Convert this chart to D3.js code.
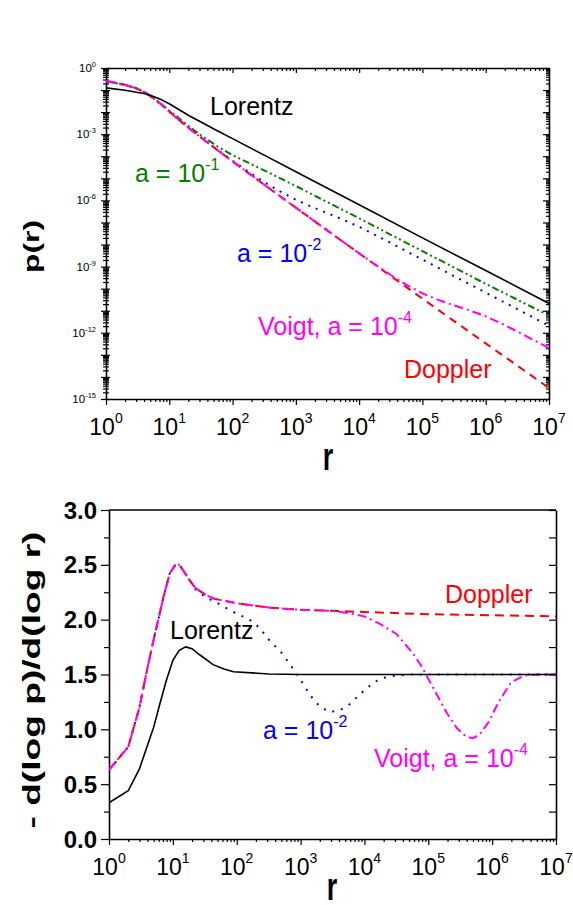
<!DOCTYPE html>
<html lang="en">
<head>
<meta charset="utf-8">
<title>Line profiles p(r)</title>
<script src="https://cdn.jsdelivr.net/npm/d3@7"></script>
<style>
  body { margin: 0; background: #fff; }
  svg text { font-family: "Liberation Sans", Arial, sans-serif; }
  .domain { stroke: #000; stroke-width: 1.6; }
  .tick line { stroke: #000; stroke-width: 1.2; }
</style>
</head>
<body>
<svg width="573" height="905"></svg>
<script>
// top panel, pairs of [log10 r, log10 p(r)]
const lorentzP = [[0,-0.9],[0.3,-1.01],[0.48,-1.1],[0.62,-1.17],[0.7,-1.24],[0.85,-1.4],[1,-1.62],[1.15,-1.88],[1.3,-2.14],[1.5,-2.45],[1.75,-2.83],[2,-3.2],[2.5,-3.95],[3,-4.7],[4,-6.2],[5,-7.7],[6,-9.18],[7,-10.67]];
const dopplerP = [[0,-0.59],[0.3,-0.76],[0.48,-0.92],[0.62,-1.12],[0.7,-1.27],[0.85,-1.6],[1,-1.97],[1.15,-2.35],[1.3,-2.7],[1.5,-3.15],[1.75,-3.7],[2,-4.23],[2.5,-5.29],[3,-6.33],[3.5,-7.37],[4,-8.4],[4.5,-9.43],[5,-10.45],[5.5,-11.47],[6,-12.48],[6.5,-13.49],[7,-14.5]];
const voigt4P = [[0,-0.59],[0.3,-0.76],[0.48,-0.92],[0.62,-1.12],[0.7,-1.27],[0.85,-1.6],[1,-1.97],[1.15,-2.35],[1.3,-2.7],[1.5,-3.15],[1.75,-3.7],[2,-4.23],[2.5,-5.29],[3,-6.33],[3.5,-7.37],[4,-8.4],[4.25,-8.9],[4.5,-9.38],[4.75,-9.83],[5,-10.21],[5.25,-10.51],[5.5,-10.76],[5.75,-10.99],[6,-11.25],[6.25,-11.58],[6.5,-11.94],[7,-12.69]];
const voigt2P = [[0,-0.59],[0.3,-0.76],[0.48,-0.92],[0.62,-1.12],[0.7,-1.27],[0.85,-1.6],[1,-1.97],[1.15,-2.35],[1.3,-2.7],[1.5,-3.14],[1.75,-3.68],[2,-4.2],[2.25,-4.7],[2.5,-5.17],[2.75,-5.59],[3,-5.97],[3.25,-6.29],[3.5,-6.58],[3.75,-6.88],[4,-7.2],[4.25,-7.56],[4.5,-7.93],[5,-8.68],[6,-10.18],[7,-11.68]];
const voigt1P = [[0,-0.6],[0.3,-0.77],[0.48,-0.93],[0.62,-1.12],[0.7,-1.27],[0.85,-1.58],[1,-1.93],[1.15,-2.27],[1.3,-2.62],[1.5,-3.05],[1.75,-3.53],[2,-3.95],[2.5,-4.64],[3,-5.35],[3.5,-6.08],[4,-6.81],[5,-8.3],[6,-9.78],[7,-11.22]];

// bottom panel, pairs of [log10 r, -d(log p)/d(log r)]
const lorentzS = [[0,0.33],[0.301,0.44],[0.477,0.64],[0.6,0.85],[0.7,1.02],[0.8,1.24],[0.9,1.45],[1,1.63],[1.1,1.72],[1.2,1.752],[1.3,1.735],[1.42,1.68],[1.63,1.59],[1.8,1.55],[1.95,1.525],[2.5,1.505],[3,1.5],[7,1.5]];
const dopplerS = [[0,0.63],[0.301,0.84],[0.477,1.2],[0.602,1.56],[0.7,1.82],[0.78,2.02],[0.85,2.2],[0.95,2.42],[1.05,2.51],[1.1,2.5],[1.15,2.46],[1.25,2.37],[1.35,2.29],[1.5,2.23],[1.65,2.19],[2,2.15],[2.5,2.11],[3,2.09],[4,2.07],[5,2.05],[6,2.04],[7,2.03]];
const voigt4S = [[0,0.63],[0.301,0.84],[0.477,1.2],[0.602,1.56],[0.7,1.82],[0.78,2.02],[0.85,2.2],[0.95,2.42],[1.05,2.51],[1.1,2.5],[1.15,2.46],[1.25,2.37],[1.35,2.29],[1.5,2.23],[1.65,2.19],[2,2.15],[2.5,2.11],[3,2.09],[3.5,2.08],[3.75,2.06],[4,2.03],[4.25,1.96],[4.5,1.87],[4.75,1.7],[4.9,1.57],[5,1.46],[5.15,1.3],[5.3,1.14],[5.45,1.01],[5.6,0.93],[5.7,0.92],[5.8,0.95],[5.95,1.07],[6.1,1.25],[6.3,1.43],[6.5,1.49],[6.75,1.5],[7,1.5]];
const voigt2S = [[0,0.63],[0.301,0.84],[0.477,1.2],[0.602,1.56],[0.7,1.82],[0.78,2.02],[0.85,2.2],[0.95,2.42],[1.05,2.51],[1.1,2.5],[1.15,2.46],[1.25,2.37],[1.35,2.28],[1.5,2.21],[1.7,2.15],[1.95,2.07],[2.2,2.0],[2.35,1.93],[2.5,1.82],[2.7,1.7],[2.85,1.58],[3,1.45],[3.15,1.31],[3.3,1.21],[3.45,1.16],[3.6,1.17],[3.75,1.22],[3.95,1.33],[4.15,1.43],[4.3,1.47],[4.5,1.49],[4.75,1.5],[7,1.5]];

const rDecades = [0, 1, 2, 3, 4, 5, 6, 7];
const pDecadeLabels = [0, -3, -6, -9, -12, -15];
const slopeTicks = [0, 0.5, 1.0, 1.5, 2.0, 2.5, 3.0];

const svg = d3.select("svg");
const green = "#008000", blue = "#0000ff", magenta = "#ff00ff", red = "#ff0000";

// log ticks 1..9 x 10^k
function logTickValues(k0, k1) {
  const out = [];
  for (let k = k0; k < k1; k++) {
    for (let m = 1; m < 10; m++) out.push(m * Math.pow(10, k));
  }
  out.push(Math.pow(10, k1));
  return out;
}
const isMajor = v => Math.abs(Math.log10(v) - Math.round(Math.log10(v))) < 1e-9;

// ---------- top panel ----------
const x1 = d3.scaleLog().domain([1, 1e7]).range([106, 549]);
const y1 = d3.scaleLog().domain([1e-15, 1]).range([399, 68]);
const rTicks = logTickValues(0, 7);
const pTicks = logTickValues(-15, 0);

const topPanel = svg.append("g");

topPanel.append("g").attr("transform", "translate(0,399)")
   .call(d3.axisBottom(x1).tickValues(rTicks).tickFormat("").tickSizeOuter(0))
   .selectAll(".tick line").attr("y2", d => isMajor(d) ? 6 : 3);
topPanel.append("g").attr("transform", "translate(0,68)")
   .call(d3.axisTop(x1).tickValues(rTicks).tickFormat("").tickSizeOuter(0))
   .selectAll(".tick line").attr("y2", d => isMajor(d) ? 5 : 3);
topPanel.append("g").attr("transform", "translate(106,0)")
   .call(d3.axisLeft(y1).tickValues(pTicks).tickFormat("").tickSizeOuter(0))
   .selectAll(".tick line").attr("x1", d => isMajor(d) ? 4 : 3).attr("x2", d => isMajor(d) ? -5 : -3);
topPanel.append("g").attr("transform", "translate(549,0)")
   .call(d3.axisRight(y1).tickValues(pTicks).tickFormat("").tickSizeOuter(0))
   .selectAll(".tick line").attr("x2", d => isMajor(d) ? -6 : -3);

// x tick labels 10^n
topPanel.selectAll("text.xl").data(rDecades).join("text")
   .attr("class", "xl")
   .attr("x", d => x1(Math.pow(10, d)))
   .attr("y", 435)
   .attr("text-anchor", "middle")
   .style("font-size", "23px")
   .each(function(d) {
     const t = d3.select(this);
     t.append("tspan").text("10");
     t.append("tspan").attr("dy", -12).style("font-size", "14px").text(d);
   });

// y tick labels 10^n (small)
topPanel.selectAll("text.yl").data(pDecadeLabels).join("text")
   .attr("class", "yl")
   .attr("x", 96)
   .attr("y", d => y1(Math.pow(10, d)) + 4)
   .attr("text-anchor", "end")
   .style("font-size", "11.5px")
   .each(function(d) {
     const t = d3.select(this);
     t.append("tspan").text("10");
     t.append("tspan").attr("dy", -5).style("font-size", "7.5px").text(d);
   });

svg.append("clipPath").attr("id", "clip1")
   .append("rect").attr("x", 106).attr("y", 68).attr("width", 443).attr("height", 331);

const line1 = d3.line()
   .x(d => x1(Math.pow(10, d[0])))
   .y(d => y1(Math.pow(10, d[1])));

const curves1 = topPanel.append("g").attr("clip-path", "url(#clip1)");
[
  {data: voigt2P, color: blue, dash: "2,6"},
  {data: voigt1P, color: green, dash: "7,3,2,3,2,3"},
  {data: dopplerP, color: red, dash: "8,6"},
  {data: voigt4P, color: magenta, dash: "9,4,2,4"},
  {data: lorentzP, color: "#000", dash: null}
].forEach(c => {
  curves1.append("path").datum(c.data)
     .attr("d", line1)
     .attr("fill", "none")
     .attr("stroke", c.color)
     .attr("stroke-width", c.dash ? 2 : 1.6)
     .attr("stroke-dasharray", c.dash);
});

// ---------- bottom panel ----------
const x2 = d3.scaleLog().domain([1, 1e7]).range([109, 556]);
const y2 = d3.scaleLinear().domain([0, 3]).range([839, 510]);
const sTicks = d3.range(0, 3.01, 0.25);

const botPanel = svg.append("g");
botPanel.append("g").attr("transform", "translate(0,839)")
   .call(d3.axisBottom(x2).tickValues(rTicks).tickFormat("").tickSizeOuter(0))
   .selectAll(".tick line").attr("y2", d => isMajor(d) ? 6 : 3);
botPanel.append("g").attr("transform", "translate(109,0)")
   .call(d3.axisLeft(y2).tickValues(sTicks).tickFormat("").tickSizeOuter(0))
   .selectAll(".tick line").attr("x2", d => Math.abs(d * 2 - Math.round(d * 2)) < 1e-6 ? -8 : -5);
botPanel.append("g").attr("transform", "translate(556,0)")
   .call(d3.axisRight(y2).tickValues(sTicks).tickFormat("").tickSizeOuter(0))
   .selectAll(".tick line").attr("x2", -7);
botPanel.append("line")
   .attr("x1", x2(1)).attr("x2", x2(1e7))
   .attr("y1", y2(3)).attr("y2", y2(3))
   .attr("stroke", "#000").attr("stroke-width", 1.6);

botPanel.selectAll("text.xl").data(rDecades).join("text")
   .attr("class", "xl")
   .attr("x", d => x2(Math.pow(10, d)))
   .attr("y", 875)
   .attr("text-anchor", "middle")
   .style("font-size", "23px")
   .each(function(d) {
     const t = d3.select(this);
     t.append("tspan").text("10");
     t.append("tspan").attr("dy", -12).style("font-size", "14px").text(d);
   });

botPanel.selectAll("text.yl").data(slopeTicks).join("text")
   .attr("class", "yl")
   .attr("x", 97)
   .attr("y", d => y2(d) + 8.5)
   .attr("text-anchor", "end")
   .style("font-size", "24px")
   .style("font-weight", "bold")
   .text(d => d.toFixed(1));

svg.append("clipPath").attr("id", "clip2")
   .append("rect").attr("x", 109).attr("y", 509).attr("width", 447).attr("height", 331);

const line2 = d3.line()
   .x(d => x2(Math.pow(10, d[0])))
   .y(d => y2(d[1]));

const curves2 = botPanel.append("g").attr("clip-path", "url(#clip2)");
[
  {data: voigt2S, color: blue, dash: "2,7"},
  {data: dopplerS, color: red, dash: "9,6"},
  {data: voigt4S, color: magenta, dash: "9,4,2,4"},
  {data: lorentzS, color: "#000", dash: null}
].forEach(c => {
  curves2.append("path").datum(c.data)
     .attr("d", line2)
     .attr("fill", "none")
     .attr("stroke", c.color)
     .attr("stroke-width", c.dash ? 2 : 1.6)
     .attr("stroke-dasharray", c.dash);
});

// ---------- curve labels ----------
function label(x, y, color, main, sup) {
  const t = svg.append("text")
     .attr("x", x).attr("y", y)
     .attr("fill", color)
     .style("font-size", "25px");
  t.append("tspan").text(main);
  if (sup) t.append("tspan").attr("dy", -12).style("font-size", "16px").text(sup);
}
label(210, 115, "#000", "Lorentz");
label(135, 182, green, "a = 10", "-1");
label(237, 262, blue, "a = 10", "-2");
label(258, 335, magenta, "Voigt, a = 10", "-4");
label(404, 378, red, "Doppler");

label(445, 603, red, "Doppler");
label(170, 639, "#000", "Lorentz");
label(263, 739, blue, "a = 10", "-2");
label(374, 767, magenta, "Voigt, a = 10", "-4");

// ---------- axis titles ----------
svg.append("text")
   .attr("transform", "translate(38.7,246.5) rotate(-90)")
   .attr("text-anchor", "middle")
   .attr("textLength", 53).attr("lengthAdjust", "spacingAndGlyphs")
   .style("font-size", "22px").style("font-weight", "bold")
   .text("p(r)");
svg.append("text")
   .attr("transform", "translate(40,680) rotate(-90)")
   .attr("text-anchor", "middle")
   .attr("textLength", 297).attr("lengthAdjust", "spacingAndGlyphs")
   .style("font-size", "24px").style("font-weight", "bold")
   .text("- d(log p)/d(log r)");
svg.append("text")
   .attr("transform", "translate(328,470) scale(1,1.45)")
   .attr("text-anchor", "middle")
   .style("font-size", "27px").style("font-weight", "bold")
   .text("r");
svg.append("text")
   .attr("transform", "translate(332,900) scale(1,1.45)")
   .attr("text-anchor", "middle")
   .style("font-size", "27px").style("font-weight", "bold")
   .text("r");
</script>
</body>
</html>
